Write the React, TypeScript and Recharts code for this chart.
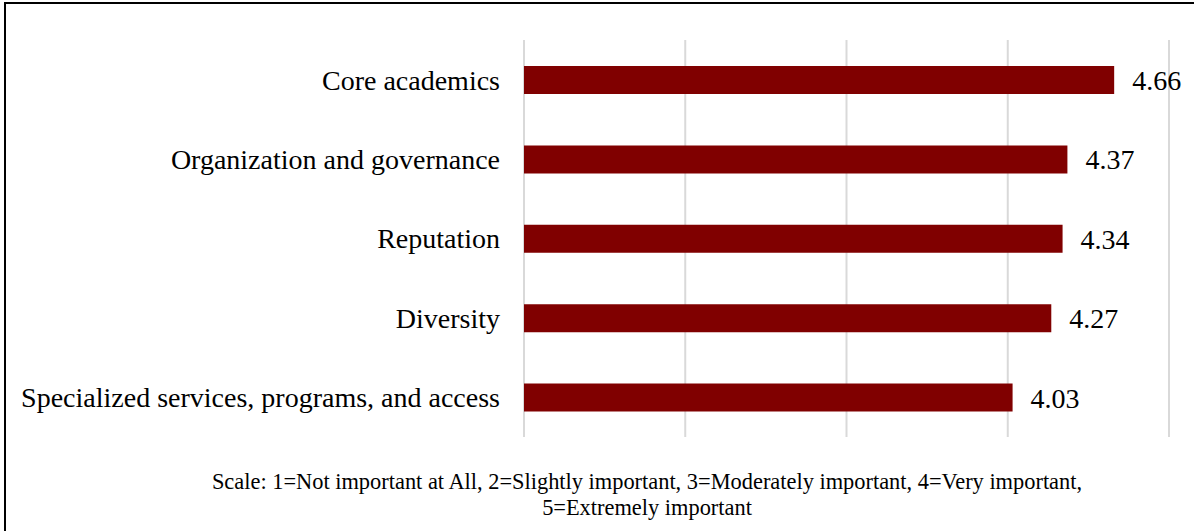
import React from "react";
import { BarChart, Bar, XAxis, YAxis, CartesianGrid, LabelList } from "recharts";

const categories = [
  "Core academics",
  "Organization and governance",
  "Reputation",
  "Diversity",
  "Specialized services, programs, and access",
];
const scores = [4.66, 4.37, 4.34, 4.27, 4.03];
const xTicks = [1, 2, 3, 4, 5];
const captionLines = [
  "Scale: 1=Not important at All, 2=Slightly important, 3=Moderately important, 4=Very important,",
  "5=Extremely important",
];

const data = categories.map((name, i) => ({ name, score: scores[i] }));
const serif = "'Liberation Serif', 'Times New Roman', serif";

export default function App() {
  return (
    <div style={{ position: "fixed", left: 0, top: 0, width: 1194, height: 531, overflow: "hidden", background: "#fff" }}>
      <div
        style={{
          position: "absolute", left: 4, top: 2, width: 1300, height: 700,
          borderLeft: "2px solid #000", borderTop: "2px solid #000",
        }}
      />
      <div style={{ position: "absolute", left: 0, top: 0 }}>
        <BarChart
          width={1194}
          height={531}
          data={data}
          layout="vertical"
          margin={{ top: 40, right: 25, bottom: 94, left: 0 }}
          barCategoryGap={0}
        >
          <CartesianGrid horizontal={false} vertical stroke="#d9d9d9" strokeWidth={2} />
          <XAxis type="number" dataKey="score" domain={[1, 5]} ticks={xTicks} hide allowDataOverflow />
          <YAxis
            type="category"
            dataKey="name"
            width={524}
            axisLine={false}
            tickLine={false}
            tickSize={0}
            tickMargin={24}
            tick={{ fill: "#000", fontSize: 28, fontFamily: serif }}
          />
          <Bar dataKey="score" fill="#800000" barSize={28} isAnimationActive={false}>
            <LabelList
              dataKey="score"
              position="right"
              offset={18}
              fill="#000"
              fontSize={28}
              fontFamily={serif}
              formatter={(v: number) => v.toFixed(2)}
            />
          </Bar>
        </BarChart>
      </div>
      <div
        style={{
          position: "absolute", left: 0, top: 469, width: 1294, textAlign: "center",
          fontFamily: serif, fontSize: 22.4, lineHeight: "26px", color: "#000",
        }}
      >
        {captionLines.map((l) => (
          <div key={l}>{l}</div>
        ))}
      </div>
    </div>
  );
}
